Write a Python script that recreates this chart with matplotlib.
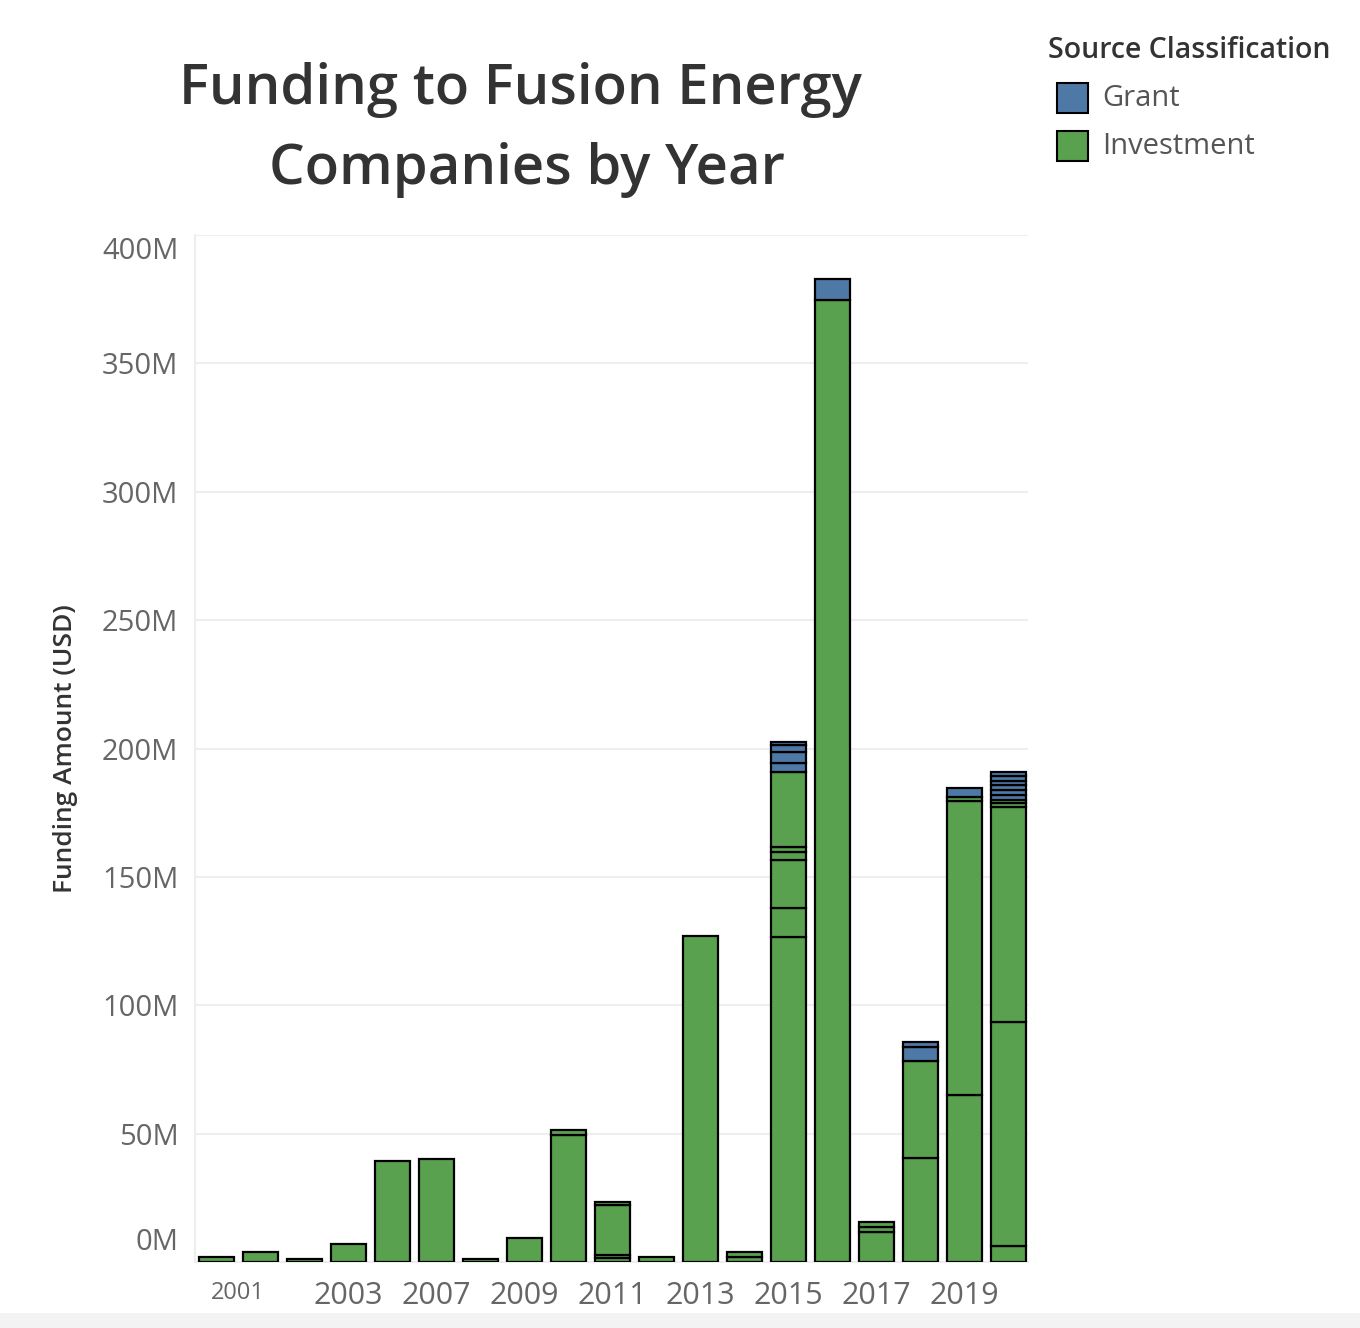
import matplotlib
matplotlib.use('Agg')
import matplotlib.pyplot as plt
from matplotlib.patches import Rectangle
import numpy as np

# ---------------- data ----------------
years = ['2000', '2001', '2002', '2003', '2006', '2007', '2008', '2009', '2010', '2011',
         '2012', '2013', '2014', '2015', '2016', '2017', '2018', '2019', '2020']

# individual funding rounds (M USD), stacked bottom -> top
investment = [
    [2.0],
    [4.0],
    [1.0],
    [7.0],
    [39.3],
    [40.0],
    [1.0],
    [9.3],
    [49.5, 1.9],
    [1.6, 1.2, 19.5, 1.2],
    [2.0],
    [127.0],
    [2.0, 2.0],
    [126.7, 11.3, 18.6, 3.2, 2.0, 29.2],
    [374.5],
    [11.6, 2.1, 2.0],
    [40.5, 37.8],
    [65.0, 114.7, 1.5],
    [6.2, 87.3, 83.9, 1.3, 1.3],
]
grant = [
    [], [], [], [], [], [], [], [], [], [], [], [], [],
    [3.4, 4.3, 2.7, 1.2],
    [8.3],
    [],
    [5.6, 1.9],
    [3.6],
    [2.0, 1.7, 2.2, 1.3, 1.9, 1.6],
]

tick_labels = ['2001', '2003', '2007', '2009', '2011', '2013', '2015', '2017', '2019']
y_ticks = [0, 50, 100, 150, 200, 250, 300, 350, 400]

GREEN = '#59a14f'
BLUE = '#4e79a7'

# ---------------- figure ----------------
W, H = 1360, 1328
fig = plt.figure(figsize=(W / 100, H / 100), dpi=100)
FONT = ['Open Sans', 'DejaVu Sans']
plt.rcParams['font.family'] = FONT

ax = fig.add_axes([195 / W, 1 - 1262 / H, (1028 - 195) / W, (1262 - 235) / H])

x = np.arange(len(years))
for i in range(len(years)):
    b = 0.0
    for seg in investment[i]:
        ax.bar(x[i], seg, bottom=b, width=0.8, color=GREEN, edgecolor='black',
               linewidth=1.6, zorder=3)
        b += seg
    for seg in grant[i]:
        ax.bar(x[i], seg, bottom=b, width=0.8, color=BLUE, edgecolor='black',
               linewidth=1.6, zorder=3)
        b += seg

ax.set_xlim(-0.48, 18.45)
ax.set_ylim(0, 400)
ax.set_yticks(y_ticks)
# Tableau keeps the end labels inside the axis range: draw those two separately
ylabels = [f'{v}M' for v in y_ticks]
ax.set_yticklabels([''] + ylabels[1:-1] + [''], fontsize=21, color='#666666')
for v, lab, dy in [(y_ticks[0], ylabels[0], 20), (y_ticks[-1], ylabels[-1], -16)]:
    ax.annotate(lab, xy=(0, v), xycoords=('axes fraction', 'data'),
                xytext=(-12, dy * 0.72), textcoords='offset points',
                ha='right', va='center', fontsize=21, color='#666666',
                annotation_clip=False)
ax.yaxis.grid(True, color='#eeeeee', linewidth=1.5, zorder=0)

tick_pos = [0.5] + [years.index(t) for t in tick_labels[1:]]
ax.set_xticks(tick_pos)
ax.set_xticklabels(tick_labels, fontsize=22, color='#666666')
first = ax.get_xticklabels()[0]
first.set_fontsize(17)
first.set_family(['Liberation Sans Narrow', 'Open Sans'])
ax.tick_params(axis='both', length=0)
ax.tick_params(axis='x', pad=14)
ax.tick_params(axis='y', pad=12)

for s in ['top', 'right']:
    ax.spines[s].set_visible(False)
ax.spines['left'].set_color('#eeeeee')
ax.spines['left'].set_linewidth(1.5)
ax.spines['bottom'].set_color('#eeeeee')
ax.spines['bottom'].set_linewidth(1.5)

ax.set_ylabel('Funding Amount (USD)', fontsize=19, color='#333333',
              fontweight='semibold')
ax.yaxis.set_label_coords(-(195 - 78) / (1028 - 195), 0.5)

# title
fig.text(520 / W, 1 - 90 / H, 'Funding to Fusion Energy', ha='center', va='center',
         fontsize=40.5, color='#333333', fontweight='semibold')
fig.text(527 / W, 1 - 170 / H, 'Companies by Year', ha='center', va='center',
         fontsize=40.5, color='#333333', fontweight='semibold')

# legend
fig.text(1048 / W, 1 - 50 / H, 'Source Classification', ha='left', va='center',
         fontsize=20.5, color='#333333', fontweight='semibold')
for j, (lab, col) in enumerate([('Grant', BLUE), ('Investment', GREEN)]):
    yc = 98 + 48 * j
    fig.patches.append(Rectangle((1057 / W, 1 - (yc + 15) / H), 31 / W, 30 / H,
                                 transform=fig.transFigure, facecolor=col,
                                 edgecolor='black', linewidth=1.5))
    fig.text(1102 / W, 1 - yc / H, lab, ha='left', va='center', fontsize=21,
             color='#555555')

# bottom gray band
fig.patches.append(Rectangle((0, 0), 1, 15 / H, transform=fig.transFigure,
                             facecolor='#f3f3f3', edgecolor='none'))

fig.savefig('out.png', dpi=100)
